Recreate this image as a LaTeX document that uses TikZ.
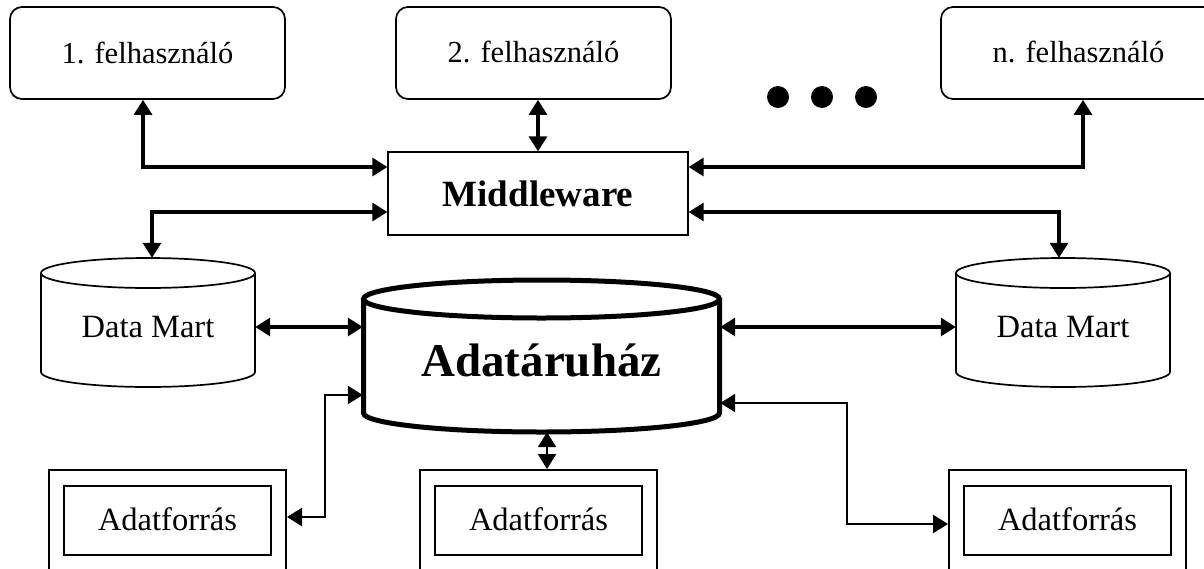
\documentclass[tikz,border=0pt]{standalone}
\usepackage{fontspec}
\setmainfont{Liberation Serif}
\usetikzlibrary{arrows.meta,calc}

\tikzset{
  usertxt/.style={font=\fontsize{30.5}{36}\selectfont},
  txt/.style={font=\fontsize{32.5}{38}\selectfont},
  userbox/.style={draw, line width=1.7pt, rounded corners=12pt, usertxt,
    minimum width=275pt, minimum height=92pt, inner sep=0pt},
  midbox/.style={draw, line width=1.3pt, minimum width=300pt, minimum height=83pt,
    inner sep=0pt, font=\bfseries\fontsize{37}{42}\selectfont},
  cylarea/.style={inner sep=0pt, txt},
  srcouter/.style={draw, line width=2pt, minimum width=237pt, minimum height=120pt, inner sep=0pt},
  srcinner/.style={draw, line width=1.7pt, minimum width=207pt, minimum height=69pt,
    inner sep=0pt, txt},
  tip/.style={Triangle[length=15pt,width=18pt]},
  conn/.style={line width=3.2pt, {Triangle[length=15pt,width=18pt]}-{Triangle[length=15pt,width=18pt]}},
  connthin/.style={line width=2.4pt, {Triangle[length=15pt,width=18pt]}-{Triangle[length=15pt,width=18pt]}},
  cylline/.style={line width=1.7pt},
  dwline/.style={line width=5pt}
}

\begin{document}
\begin{tikzpicture}[x=1pt, y=-1pt]
\useasboundingbox (0,0) rectangle (1204,568);
\clip (0,0) rectangle (1204,568);

% users
\node[userbox] (b1) at (147.5,53) {\raisebox{-4pt}{1. felhasználó}};
\node[userbox] (b2) at (533.5,53) {\raisebox{3pt}{2. felhasználó}};
\node[userbox] (bn) at (1078.5,53) {\raisebox{3pt}{n. felhasználó}};

% ellipsis dots
\foreach \dx in {778,822,866}
  \fill (\dx,97) circle[radius=11];

% middleware
\node[midbox] (mw) at (538,193.5) {Middleware};

% data marts (left and right)
\draw[cylline] (41,273) -- (41,372) arc[start angle=180, end angle=0, x radius=107, y radius=15] -- (255,273);
\draw[cylline] (148,273) ellipse[x radius=107, y radius=15];
\node[cylarea, minimum width=214pt, minimum height=138pt] (dml) at (148,327) {\raisebox{-3pt}{Data Mart}};

\draw[cylline] (956,273) -- (956,372) arc[start angle=180, end angle=0, x radius=107, y radius=15] -- (1170,273);
\draw[cylline] (1063,273) ellipse[x radius=107, y radius=15];
\node[cylarea, minimum width=214pt, minimum height=138pt] (dmr) at (1063,327) {\raisebox{-3pt}{Data Mart}};

% data warehouse
\draw[dwline] (363.5,299) -- (363.5,413) arc[start angle=180, end angle=0, x radius=178, y radius=19] -- (719.5,299);
\draw[dwline] (541.5,299) ellipse[x radius=178, y radius=19];
\node[inner sep=0pt, minimum width=357pt, minimum height=144pt,
      font=\bfseries\fontsize{47}{52}\selectfont] (dw) at (541.5,360) {Adatáruház};

% data sources
\node[srcouter] (afl) at (167.5,530) {};
\node[srcinner] (afli) at (167.5,520.5) {\raisebox{2pt}{Adatforrás}};
\node[srcouter] (afm) at (538.5,530) {};
\node[srcinner] (afmi) at (538.5,520.5) {\raisebox{2pt}{Adatforrás}};
\node[srcouter] (afr) at (1067.5,530) {};
\node[srcinner] (afri) at (1067.5,520.5) {\raisebox{2pt}{Adatforrás}};

% users <-> middleware
\draw[conn] ($(b1.south)+(-4.5,0)$) |- ($(mw.west)+(0,-26.5)$);
\draw[conn] (mw.north) -- (mw.north |- b2.south);
\draw[conn] ($(bn.south)+(4.5,0)$) |- ($(mw.east)+(0,-26.5)$);

% middleware <-> data marts
\draw[conn] ($(mw.west)+(0,18.5)$) -| ($(dml.north)+(4,0)$);
\draw[conn] ($(mw.east)+(0,18.5)$) -| ($(dmr.north)+(-4,0)$);

% data marts <-> warehouse
\draw[conn] (dml.east) -- ($(dw.west)+(0,-33)$);
\draw[conn] ($(dw.east)+(0,-33)$) -- (dmr.west);

% warehouse <-> data sources
\draw[connthin] ($(dw.west)+(0,35)$) -- ++(-38,0) |- ($(afl.east)+(0,-13)$);
\draw[connthin] ($(dw.south)+(5.5,0)$) coordinate (dwb) -- (dwb |- afm.north);
\draw[connthin] ($(dw.east)+(0,43)$) -- ++(127,0) |- ($(afr.west)+(0,-6)$);
\end{tikzpicture}
\end{document}
